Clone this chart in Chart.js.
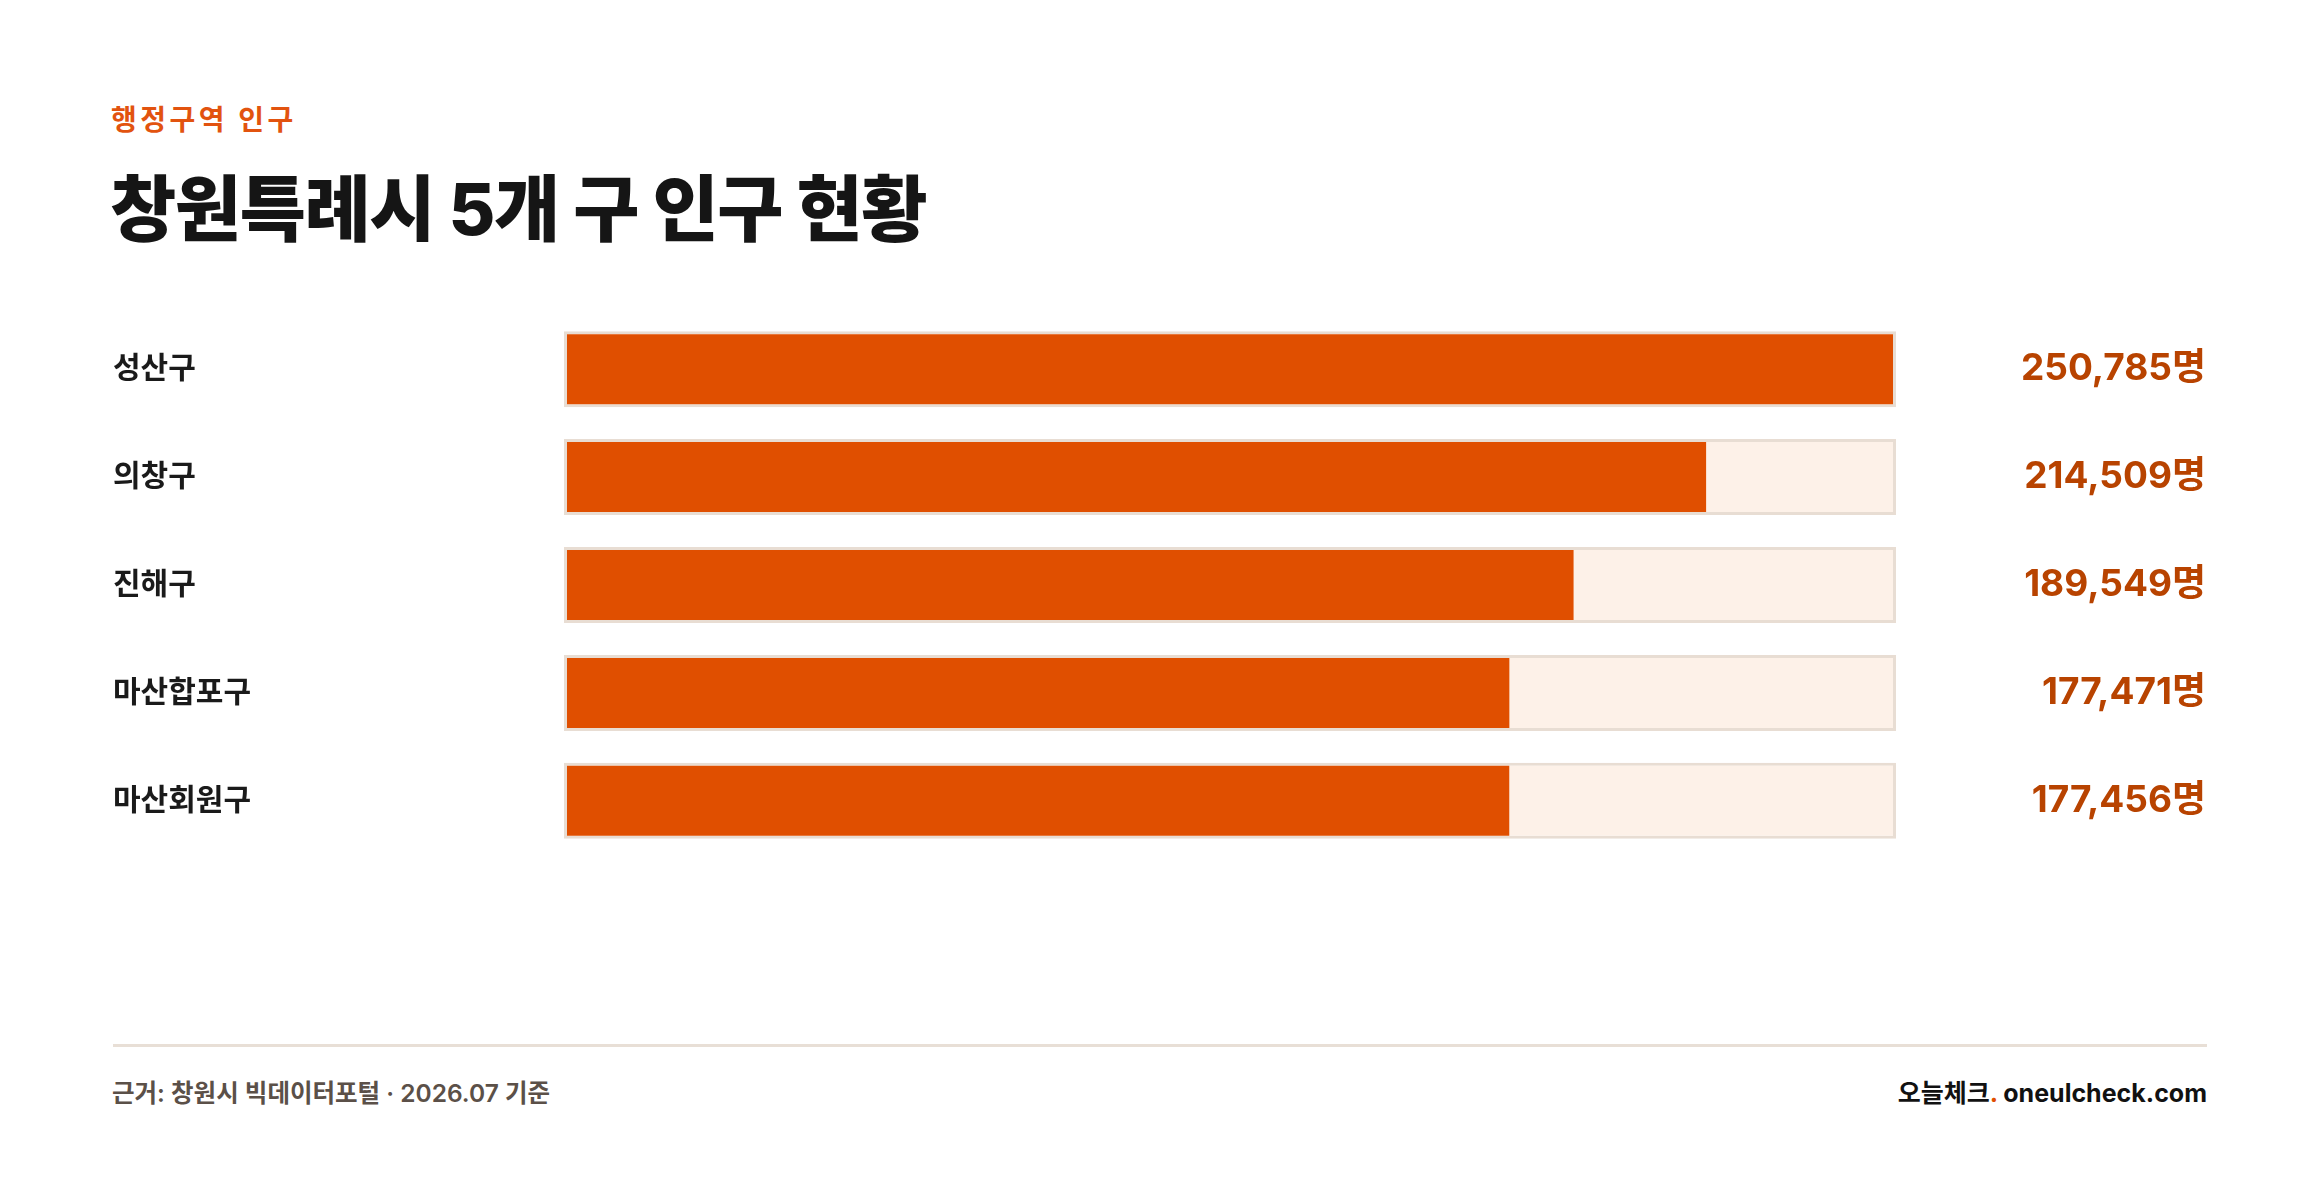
<!DOCTYPE html>
<html lang="ko">
<head>
<meta charset="utf-8">
<script src="https://cdn.jsdelivr.net/npm/chart.js@4/dist/chart.umd.min.js"></script>
<style>
  html, body { margin: 0; padding: 0; background: #ffffff; }
  body { width: 2320px; height: 1190px; position: relative; overflow: hidden;
         font-family: Inter, "Noto Sans CJK KR", sans-serif; }
  .abs { position: absolute; white-space: nowrap; }
  #eyebrow { left: 111px; top: 100px; height: 40px; line-height: 40px; font-size: 28px; font-weight: 700;
             color: #E2530F; letter-spacing: 3.5px; }
  #title { left: 110px; top: 169px; height: 80px; line-height: 80px; font-size: 72px; font-weight: 800;
           color: #151515; letter-spacing: -1.4px; }
  #chartWrap { left: 0; top: 293px; width: 2320px; height: 584px; }
  #rule { left: 113px; top: 1044px; width: 2094px; height: 3px; background: #E8DFD6; }
  #source { left: 112px; top: 1075px; height: 36px; line-height: 36px; font-size: 24.5px; font-weight: 600; color: #5B5048; }
  #brand { right: 113px; top: 1075px; height: 36px; line-height: 36px; font-size: 25px; font-weight: 700; color: #111111; }
  #brand .dot { color: #E04F00; }
</style>
</head>
<body>
<div id="eyebrow" class="abs">행정구역 인구</div>
<div id="title" class="abs">창원특례시 5개 구 인구 현황</div>
<div id="chartWrap" class="abs"><canvas id="c" width="2320" height="584"></canvas></div>
<div id="rule" class="abs"></div>
<div id="source" class="abs">근거: 창원시 빅데이터포털 · 2026.07 기준</div>
<div id="brand" class="abs">오늘체크<span class="dot">.</span> oneulcheck.com</div>
<script>
const districts = ['성산구', '의창구', '진해구', '마산합포구', '마산회원구'];
const population = [250785, 214509, 189549, 177471, 177456];
const trackMax = 250785;
const valueLabels = population.map(v => v.toLocaleString('en-US') + '명');

const fontFamily = 'Inter, "Noto Sans CJK KR", sans-serif';
// the track frame is 3px wide; fills start inside the frame
const frameUnits = trackMax * 3 / 1332;
const xMin = -frameUnits;
const xMax = trackMax - frameUnits;

new Chart(document.getElementById('c'), {
  type: 'bar',
  data: {
    labels: districts,
    datasets: [
      {
        label: '인구',
        data: population,
        backgroundColor: '#E04F00',
        borderColor: 'rgba(0,0,0,0)',
        borderWidth: { top: 3, bottom: 3, left: 0, right: 0 },
        borderSkipped: false,
        grouped: false,
        order: 0,
        clip: { left: 0, top: false, right: -3, bottom: false },
        barPercentage: 76 / 108,
        categoryPercentage: 1
      },
      {
        label: 'track',
        data: districts.map(() => [xMin, xMax]),
        backgroundColor: '#FDF1E8',
        borderColor: '#E8DDD3',
        borderWidth: 3,
        borderSkipped: false,
        grouped: false,
        order: 1,
        clip: false,
        barPercentage: 76 / 108,
        categoryPercentage: 1
      }
    ]
  },
  options: {
    indexAxis: 'y',
    responsive: false,
    animation: false,
    events: [],
    layout: { padding: { left: 113, right: 114, top: 0, bottom: 0 } },
    plugins: { legend: { display: false }, tooltip: { enabled: false } },
    scales: {
      x: { display: false, min: xMin, max: xMax },
      y: {
        position: 'left',
        grid: { display: false },
        border: { display: false },
        ticks: { crossAlign: 'far', padding: 0, color: '#1A1A1A',
                 font: { family: fontFamily, size: 30, weight: '700' } },
        afterFit: s => { s.width = 451; }
      },
      y2: {
        axis: 'y',
        type: 'category',
        labels: valueLabels,
        offset: true,
        position: 'right',
        grid: { display: false },
        border: { display: false },
        ticks: { crossAlign: 'far', padding: 0, color: '#B84300',
                 font: { family: fontFamily, size: 37, weight: '700' } },
        afterFit: s => { s.width = 310; }
      }
    }
  }
});
</script>
</body>
</html>
